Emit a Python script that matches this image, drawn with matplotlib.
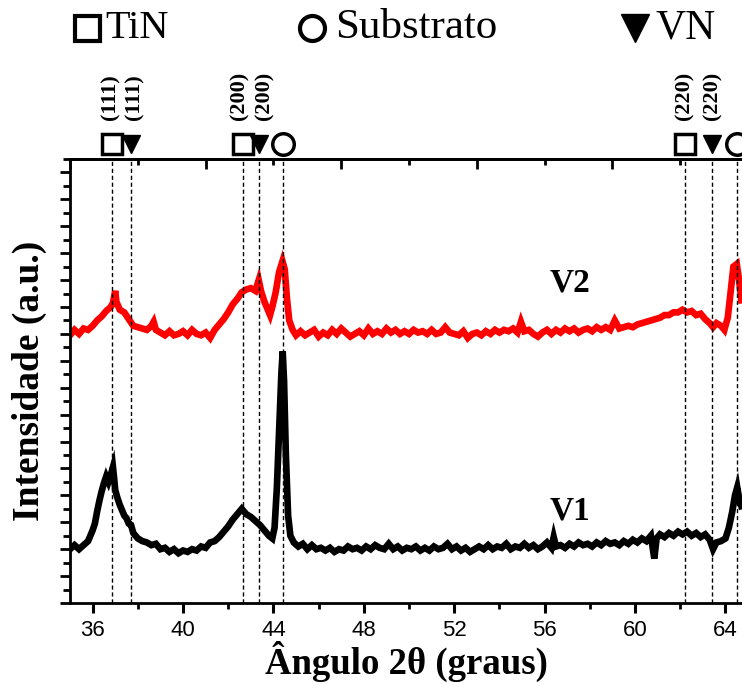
import numpy as np
import matplotlib
matplotlib.use('Agg')
import matplotlib.pyplot as plt
from matplotlib.ticker import MultipleLocator, FixedLocator, NullFormatter

ang_v1 = [35.0, 35.2, 35.4, 35.6, 35.8, 36.0, 36.1, 36.2, 36.3, 36.4, 36.5, 36.6, 36.7, 36.8, 36.9, 36.95,
          37.0, 37.1, 37.2, 37.3, 37.4, 37.5, 37.6, 37.7, 37.8, 37.9, 38.0, 38.2, 38.4, 38.6, 38.8,
          39.0, 39.2, 39.4, 39.6, 39.8, 40.0, 40.2, 40.4, 40.6, 40.8, 41.0, 41.2, 41.4, 41.6, 41.8,
          42.0, 42.2, 42.4, 42.6, 42.7, 42.8, 43.0, 43.2, 43.4, 43.6, 43.8, 43.95, 44.05, 44.15, 44.25,
          44.35, 44.41, 44.47, 44.55, 44.65, 44.75, 44.9, 45.1, 45.3, 45.5, 45.7, 45.9, 46.1, 46.3,
          46.5, 46.7, 46.9, 47.1, 47.3, 47.5, 47.7, 47.9, 48.1, 48.3, 48.5, 48.7, 48.9, 49.1, 49.3,
          49.5, 49.7, 49.9, 50.1, 50.3, 50.5, 50.7, 50.9, 51.1, 51.3, 51.5, 51.7, 51.9, 52.1, 52.3,
          52.5, 52.7, 52.9, 53.1, 53.3, 53.5, 53.7, 53.9, 54.1, 54.3, 54.5, 54.7, 54.9, 55.1, 55.3,
          55.5, 55.7, 55.9, 56.1, 56.3, 56.4, 56.5, 56.7, 56.9, 57.1, 57.3, 57.5, 57.7, 57.9, 58.1,
          58.3, 58.5, 58.7, 58.9, 59.1, 59.3, 59.5, 59.7, 59.9, 60.1, 60.3, 60.5, 60.7, 60.85, 60.95,
          61.1, 61.3, 61.5, 61.7, 61.9, 62.1, 62.3, 62.5, 62.7, 62.9, 63.1, 63.3, 63.45, 63.6, 63.8,
          64.0, 64.15, 64.3, 64.42, 64.52, 64.6, 64.7]
int_v1 = [4.0, 4.3, 4.0, 4.3, 4.6, 5.4, 5.9, 6.8, 7.6, 8.3, 8.9, 9.4, 9.0, 9.5, 10.1, 9.3,
          8.4, 7.8, 7.3, 6.9, 6.5, 6.3, 5.9, 5.8, 5.2, 5.0, 4.8, 4.6, 4.5, 4.3, 4.4,
          4.0, 4.1, 3.8, 4.0, 3.7, 3.9, 3.8, 4.0, 3.9, 4.2, 4.1, 4.5, 4.6, 4.9, 5.3,
          5.7, 6.2, 6.6, 7.0, 6.8, 6.6, 6.4, 6.1, 5.8, 5.4, 5.0, 4.8, 5.6, 8.5, 12.8,
          17.0, 18.7, 16.5, 11.0, 6.5, 5.0, 4.5, 4.2, 4.4, 4.0, 4.3, 4.0, 4.1, 3.9,
          4.1, 3.8, 4.0, 3.9, 4.2, 4.0, 4.1, 3.9, 4.2, 4.0, 4.3, 4.1, 4.0, 4.4, 4.0,
          4.2, 3.9, 4.1, 4.0, 4.2, 3.9, 4.1, 3.9, 4.2, 4.0, 4.1, 4.4, 4.0, 4.2, 3.9,
          4.1, 3.8, 4.0, 4.2, 4.0, 4.3, 4.0, 4.2, 4.1, 4.4, 4.0, 4.2, 4.1, 4.4, 4.1,
          4.3, 4.0, 4.2, 4.5, 4.1, 4.9, 4.2, 4.3, 4.1, 4.4, 4.2, 4.5, 4.3, 4.4, 4.2,
          4.5, 4.3, 4.6, 4.4, 4.5, 4.3, 4.6, 4.4, 4.7, 4.5, 4.8, 4.6, 5.0, 3.3, 4.8,
          5.1, 4.9, 5.2, 5.0, 5.3, 5.1, 5.3, 5.0, 5.2, 4.9, 5.1, 4.7, 4.0, 4.5, 4.6,
          4.8, 5.6, 6.8, 8.0, 8.6, 7.8, 7.2]

ang_v2 = [35.0, 35.2, 35.4, 35.6, 35.8, 36.0, 36.2, 36.4, 36.6, 36.8, 36.9, 37.0, 37.05, 37.2, 37.4,
          37.6, 37.8, 38.0, 38.2, 38.4, 38.6, 38.7, 38.8, 39.0, 39.2, 39.4, 39.6, 39.8, 40.0, 40.2,
          40.4, 40.6, 40.8, 41.0, 41.2, 41.4, 41.6, 41.8, 42.0, 42.2, 42.4, 42.6, 42.8, 43.0, 43.2,
          43.35, 43.45, 43.6, 43.75, 43.85, 43.95, 44.1, 44.25, 44.4, 44.5, 44.6, 44.7, 44.85, 45.0,
          45.2, 45.4, 45.6, 45.8, 46.0, 46.2, 46.4, 46.6, 46.8, 47.0, 47.2, 47.4, 47.6, 47.8, 48.0,
          48.2, 48.4, 48.6, 48.8, 49.0, 49.2, 49.4, 49.6, 49.8, 50.0, 50.2, 50.4, 50.6, 50.8, 51.0,
          51.2, 51.4, 51.6, 51.8, 52.0, 52.2, 52.4, 52.6, 52.8, 53.0, 53.2, 53.4, 53.6, 53.8, 54.0,
          54.2, 54.4, 54.6, 54.8, 54.95, 55.1, 55.3, 55.5, 55.7, 55.9, 56.1, 56.3, 56.5, 56.7, 56.9,
          57.1, 57.3, 57.5, 57.7, 57.9, 58.1, 58.3, 58.5, 58.7, 58.9, 59.1, 59.3, 59.5, 59.7, 59.9,
          60.1, 60.3, 60.5, 60.7, 60.9, 61.1, 61.3, 61.5, 61.7, 61.9, 62.1, 62.3, 62.5, 62.7, 62.9,
          63.1, 63.3, 63.45, 63.6, 63.8, 63.95, 64.1, 64.25, 64.35, 64.5, 64.6, 64.7]
int_v2 = [19.9, 20.3, 20.0, 20.4, 20.3, 20.6, 21.0, 21.3, 21.7, 22.0, 22.3, 23.2, 22.4, 21.8, 21.6,
          21.1, 20.6, 20.5, 20.4, 20.3, 20.6, 20.9, 20.3, 20.1, 19.9, 20.2, 19.9, 20.0, 20.2, 19.9,
          20.3, 20.0, 19.9, 20.1, 19.7, 20.3, 20.7, 21.1, 21.6, 22.2, 22.6, 23.1, 23.3, 23.4, 23.2,
          24.0, 23.2, 22.4, 21.8, 21.4, 22.0, 23.1, 24.6, 25.4, 24.8, 22.6, 21.0, 20.3, 19.9,
          20.2, 19.9, 20.1, 20.3, 19.8, 20.1, 19.9, 20.3, 20.0, 20.4, 20.1, 19.8, 20.0, 20.2, 19.9,
          20.4, 20.0, 20.2, 20.0, 20.4, 20.1, 20.3, 20.0, 20.2, 20.0, 20.3, 20.1, 20.2, 20.0, 20.3,
          20.0, 20.1, 20.5, 20.1, 20.0, 19.9, 20.2, 19.7, 20.0, 20.1, 19.9, 20.2, 20.0, 20.3, 20.1,
          20.3, 20.2, 20.4, 20.1, 20.9, 20.2, 20.3, 20.0, 19.8, 20.1, 20.3, 20.0, 20.3, 20.1, 20.4,
          20.2, 20.4, 20.1, 20.3, 20.4, 20.2, 20.5, 20.3, 20.5, 20.3, 21.0, 20.4, 20.5, 20.6, 20.5,
          20.7, 20.8, 20.9, 21.0, 21.1, 21.2, 21.4, 21.4, 21.6, 21.6, 21.8, 21.6, 21.7, 21.4, 21.5,
          21.1, 20.8, 20.5, 20.8, 20.6, 20.3, 21.2, 23.5, 25.0, 25.2, 24.0, 22.5]

# posicoes dos picos (graus)
pos_tin = [36.87, 42.66, 62.20]
pos_vn = [37.72, 43.38, 63.42]
pos_sub = [44.42, 64.53]
hkl_tin = ['(111)', '(200)', '(220)']
hkl_vn = ['(111)', '(200)', '(220)']
# onde ficam os rotulos (hkl), um pouco afastados para nao se sobreporem
lab_tin = [36.78, 42.52, 62.20]
lab_vn = [37.86, 43.62, 63.42]

serif = 'Liberation Serif'
sans = 'Liberation Sans'

fig = plt.figure(figsize=(7.42, 6.84), dpi=100)
ax = fig.add_axes([70 / 742, 81 / 684, 672 / 742, 444 / 684])

ax.plot(ang_v1, int_v1, color='black', lw=4.8, solid_joinstyle='miter')
ax.plot(ang_v2, int_v2, color='red', lw=4.8, solid_joinstyle='miter')

for p in pos_tin + pos_vn + pos_sub:
    ax.axvline(p, color='black', lw=1.0, ls=(0, (3, 2)))

ax.set_xlim(35, 64.73)
ax.set_ylim(0, 33)

# marcadores acima do eixo
ytop = 34.1
ax.plot(pos_tin, [ytop] * 3, ls='none', marker='s', ms=14.5, mfc='white', mec='black', mew=2.5, clip_on=False)
ax.plot(pos_vn, [ytop] * 3, ls='none', marker='v', ms=13, mfc='black', mec='black', clip_on=False)
ax.plot(pos_sub, [ytop] * 2, ls='none', marker='o', ms=15.5, mfc='white', mec='black', mew=2.5, clip_on=False)

for p, t in zip(lab_tin + lab_vn, hkl_tin + hkl_vn):
    ax.text(p, 35.9, t, rotation=90, ha='center', va='bottom', fontsize=16,
            fontfamily=serif, fontweight='bold', clip_on=False)

ax.text(57.1, 23.75, 'V2', fontsize=24, fontfamily=serif, fontweight='bold', ha='center', va='center')
ax.text(57.1, 6.85, 'V1', fontsize=24, fontfamily=serif, fontweight='bold', ha='center', va='center')

# eixos
for s in ['left', 'bottom', 'top']:
    ax.spines[s].set_linewidth(2)
ax.spines['right'].set_visible(False)

ax.xaxis.set_major_locator(MultipleLocator(4))
ax.xaxis.set_minor_locator(MultipleLocator(2))
ax.yaxis.set_major_locator(MultipleLocator(2))
ax.yaxis.set_minor_locator(MultipleLocator(1))
ax.yaxis.set_major_formatter(NullFormatter())
ax.tick_params(axis='x', which='major', direction='out', length=7, width=2.2, top=False,
               labelsize=16, pad=5)
ax.tick_params(axis='x', which='minor', direction='out', length=4, width=2, top=False)
ax.tick_params(axis='y', which='major', direction='out', length=7, width=2, right=False)
ax.tick_params(axis='y', which='minor', direction='out', length=5, width=2, right=False)
for lab in ax.get_xticklabels():
    lab.set_fontfamily(sans)

sec = ax.secondary_xaxis('top')
sec.xaxis.set_major_locator(FixedLocator([35, 41, 47, 53, 59, 65]))
sec.xaxis.set_minor_locator(FixedLocator([38, 44, 50, 56, 62]))
sec.xaxis.set_major_formatter(NullFormatter())
sec.tick_params(which='major', direction='in', length=7, width=2)
sec.tick_params(which='minor', direction='in', length=4, width=2)
sec.spines['top'].set_linewidth(2)

ax.set_xlabel('Ângulo 2θ (graus)', fontsize=26.5, fontfamily=serif, fontweight='bold', labelpad=0)
ax.set_ylabel('Intensidade (a.u.)', fontsize=27, fontfamily=serif, fontweight='bold', labelpad=6)

# legenda no topo
fig.text(0.1415, 0.959, 'TiN', fontsize=29, fontfamily=serif, va='center', ha='left')
fig.text(0.4515, 0.959, 'Substrato', fontsize=31, fontfamily=serif, va='center', ha='left')
fig.text(0.883, 0.959, 'VN', fontsize=30, fontfamily=serif, va='center', ha='left')
lg = fig.add_axes([0, 0, 1, 1], facecolor='none')
lg.set_axis_off()
lg.set_xlim(0, 1)
lg.set_ylim(0, 1)
lg.plot([0.117], [0.959], marker='s', ms=18, mfc='white', mec='black', mew=3)
lg.plot([0.4205], [0.959], marker='o', ms=18, mfc='white', mec='black', mew=3)
lg.plot([0.856], [0.959], marker='v', ms=20, mfc='black', mec='black')

fig.savefig('out.png', dpi=100)
